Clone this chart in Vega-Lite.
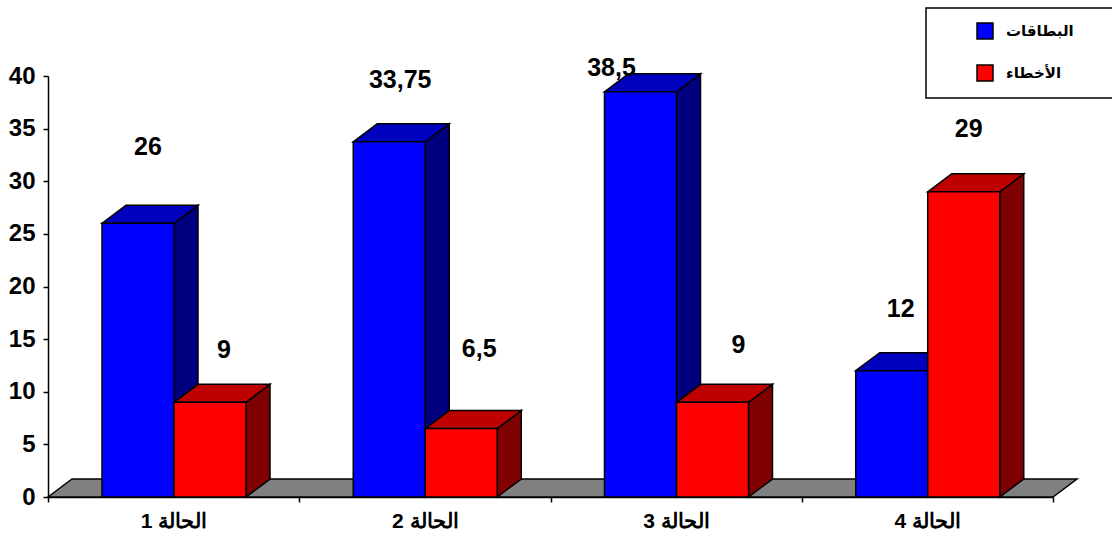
{
"$schema":"https://vega.github.io/schema/vega-lite/v6.json",
"width":1005,"height":421,
"autosize":{"type":"none"},
"padding":{"left":48,"top":76,"right":59,"bottom":44},
"background":"white",
"config":{"view":{"stroke":null},"legend":{"strokeWidth":1.5},"text":{"font":"Liberation Sans"}},
"data":{"values":[
{"n":1,"case":"الحالة 1","series":"البطاقات","value":26},
{"n":1,"case":"الحالة 1","series":"الأخطاء","value":9},
{"n":2,"case":"الحالة 2","series":"البطاقات","value":33.75},
{"n":2,"case":"الحالة 2","series":"الأخطاء","value":6.5},
{"n":3,"case":"الحالة 3","series":"البطاقات","value":38.5},
{"n":3,"case":"الحالة 3","series":"الأخطاء","value":9},
{"n":4,"case":"الحالة 4","series":"البطاقات","value":12},
{"n":4,"case":"الحالة 4","series":"الأخطاء","value":29}
]},
"transform":[
{"calculate":"datum.n-1+0.2149+(datum.series==='البطاقات'?0:0.28657)","as":"left"},
{"calculate":"datum.left+0.143285","as":"cx"},
{"calculate":"replace(''+datum.value,'.',',')","as":"label"}
],
"resolve":{"scale":{"x":"independent"}},
"layer":[
{"mark":{"type":"rule","opacity":0},
 "encoding":{"x":{"field":"case","type":"nominal","sort":null,"scale":{"type":"band","paddingInner":0,"paddingOuter":0},
  "axis":{"title":null,"orient":"bottom","labelAngle":0,"tickBand":"extent","tickSize":5,"tickColor":"black","tickWidth":1.5,"domainColor":"black","domainWidth":1.5,"labelFont":"Liberation Sans","labelFontWeight":"bold","labelFontSize":21,"labelColor":"black","labelPadding":8}}}},
{"data":{"values":[{"k":0},{"k":1},{"k":2},{"k":3}]},
 "transform":[
  {"calculate":"datum.k==0?0:datum.k==1?0.09552:datum.k==2?4:4.09552","as":"px"},
  {"calculate":"datum.k==0?0:1.71","as":"py"},
  {"calculate":"datum.k==3?1.71:0","as":"py2"}],
 "mark":{"type":"area","orient":"vertical","fill":"#808080","stroke":"black","strokeWidth":1.5,"clip":false},
 "encoding":{
  "x":{"field":"px","type":"quantitative","scale":{"domain":[0,4],"nice":false,"zero":false},"axis":null},
  "y":{"field":"py","type":"quantitative","stack":null,"scale":{"domain":[0,40],"nice":false},
   "axis":{"title":null,"values":[0,5,10,15,20,25,30,35,40],"grid":false,"tickSize":5,"tickColor":"black","tickWidth":1.5,"domainColor":"black","domainWidth":1.5,"labelFont":"Liberation Sans","labelFontWeight":"bold","labelFontSize":24,"labelColor":"black","labelPadding":8}},
  "y2":{"field":"py2"}}},
{"transform":[
  {"calculate":"[0,1,2]","as":"face"},{"flatten":["face"]},
  {"calculate":"[0,1,2,3]","as":"k"},{"flatten":["k"]},
  {"filter":"datum.face==1||datum.k<2"},
  {"calculate":"datum.face==0?(datum.left+0.28657+datum.k*0.09552):datum.face==2?(datum.left+datum.k*0.28657):(datum.left+(datum.k==1?0.09552:datum.k==2?0.28657:datum.k==3?0.38209:0))","as":"px"},
  {"calculate":"datum.face==2?datum.value:datum.face==0?(datum.value+datum.k*1.71):(datum.k==0?datum.value:datum.value+1.71)","as":"py"},
  {"calculate":"datum.face==2?0:datum.face==0?datum.k*1.71:(datum.k==3?datum.value+1.71:datum.value)","as":"py2"},
  {"calculate":"datum.face==2?datum.series:datum.series+(datum.face==0?' جانب':' أعلى')","as":"shade"},
  {"calculate":"datum.n+datum.series+datum.face","as":"piece"}],
 "mark":{"type":"area","orient":"vertical","stroke":"black","strokeWidth":1.5,"clip":false},
 "encoding":{
  "x":{"field":"px","type":"quantitative","scale":{"domain":[0,4],"nice":false,"zero":false},"axis":null},
  "y":{"field":"py","type":"quantitative","stack":null},
  "y2":{"field":"py2"},
  "detail":{"field":"piece"},
  "fill":{"field":"shade","type":"nominal",
   "scale":{"domain":["البطاقات","الأخطاء","البطاقات جانب","البطاقات أعلى","الأخطاء جانب","الأخطاء أعلى"],"range":["#0000ff","#ff0000","#00007f","#0000bf","#7f0000","#bf0000"]},
   "legend":{"title":null,"values":["البطاقات","الأخطاء"],"orient":"none","legendX":878,"legendY":-68,"padding":14,"symbolType":"square","symbolSize":256,"symbolStrokeColor":"black","symbolStrokeWidth":1.5,"symbolOffset":36,"labelOffset":12,"rowPadding":20,"strokeColor":"black","labelFont":"DejaVu Sans","labelFontWeight":"bold","labelFontSize":15,"labelColor":"black","labelLimit":400,"labelExpr":"datum.label+'\u2003\u2003\u200b'"}}}},
{"transform":[{"filter":"datum.n==1&&datum.series==='البطاقات'"}],"mark":{"type":"text","fontWeight":"bold","fontSize":25,"fill":"black","dx":10,"dy":-76},"encoding":{"x":{"field":"cx","type":"quantitative","scale":{"domain":[0,4],"nice":false,"zero":false},"axis":null},"y":{"field":"value","type":"quantitative"},"text":{"field":"label"}}},
{"transform":[{"filter":"datum.n==1&&datum.series==='الأخطاء'"}],"mark":{"type":"text","fontWeight":"bold","fontSize":25,"fill":"black","dx":14,"dy":-52},"encoding":{"x":{"field":"cx","type":"quantitative","scale":{"domain":[0,4],"nice":false,"zero":false},"axis":null},"y":{"field":"value","type":"quantitative"},"text":{"field":"label"}}},
{"transform":[{"filter":"datum.n==2&&datum.series==='البطاقات'"}],"mark":{"type":"text","fontWeight":"bold","fontSize":25,"fill":"black","dx":11,"dy":-62},"encoding":{"x":{"field":"cx","type":"quantitative","scale":{"domain":[0,4],"nice":false,"zero":false},"axis":null},"y":{"field":"value","type":"quantitative"},"text":{"field":"label"}}},
{"transform":[{"filter":"datum.n==2&&datum.series==='الأخطاء'"}],"mark":{"type":"text","fontWeight":"bold","fontSize":25,"fill":"black","dx":18,"dy":-80},"encoding":{"x":{"field":"cx","type":"quantitative","scale":{"domain":[0,4],"nice":false,"zero":false},"axis":null},"y":{"field":"value","type":"quantitative"},"text":{"field":"label"}}},
{"transform":[{"filter":"datum.n==3&&datum.series==='البطاقات'"}],"mark":{"type":"text","fontWeight":"bold","fontSize":25,"fill":"black","dx":-29,"dy":-24},"encoding":{"x":{"field":"cx","type":"quantitative","scale":{"domain":[0,4],"nice":false,"zero":false},"axis":null},"y":{"field":"value","type":"quantitative"},"text":{"field":"label"}}},
{"transform":[{"filter":"datum.n==3&&datum.series==='الأخطاء'"}],"mark":{"type":"text","fontWeight":"bold","fontSize":25,"fill":"black","dx":26,"dy":-57},"encoding":{"x":{"field":"cx","type":"quantitative","scale":{"domain":[0,4],"nice":false,"zero":false},"axis":null},"y":{"field":"value","type":"quantitative"},"text":{"field":"label"}}},
{"transform":[{"filter":"datum.n==4&&datum.series==='البطاقات'"}],"mark":{"type":"text","fontWeight":"bold","fontSize":25,"fill":"black","dx":9,"dy":-62},"encoding":{"x":{"field":"cx","type":"quantitative","scale":{"domain":[0,4],"nice":false,"zero":false},"axis":null},"y":{"field":"value","type":"quantitative"},"text":{"field":"label"}}},
{"transform":[{"filter":"datum.n==4&&datum.series==='الأخطاء'"}],"mark":{"type":"text","fontWeight":"bold","fontSize":25,"fill":"black","dx":5,"dy":-63},"encoding":{"x":{"field":"cx","type":"quantitative","scale":{"domain":[0,4],"nice":false,"zero":false},"axis":null},"y":{"field":"value","type":"quantitative"},"text":{"field":"label"}}}
]
}
